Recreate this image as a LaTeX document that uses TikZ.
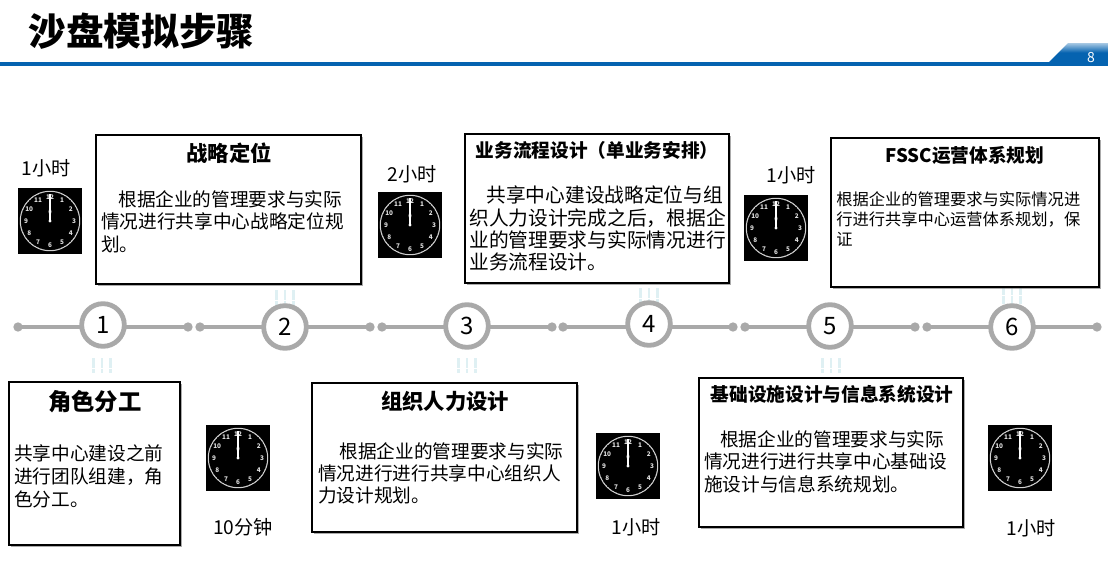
\documentclass[tikz,border=0pt]{standalone}
\usepackage{fontspec}
\setmainfont{Noto Sans CJK SC}
\usetikzlibrary{shadows}
\definecolor{barblue}{HTML}{0563B0}
\definecolor{lineGray}{HTML}{A9A9A9}
\definecolor{paleTick}{HTML}{DFF0F3}
\tikzset{
  x=0.75pt,y=-0.75pt,
  box/.style={draw=black,fill=white,line width=1.5pt,inner sep=0pt,anchor=center,
    drop shadow={shadow xshift=1.4pt,shadow yshift=-1.4pt,fill=black!55,opacity=.6}},
  bodytext/.style={inner sep=0pt,anchor=north west,align=left,text=black},
  titletext/.style={inner sep=0pt,anchor=center,text=black,font=\bfseries},
  timetext/.style={inner sep=0pt,anchor=center,text=black,font=\fontsize{14.4}{16}\selectfont},
  stepcircle/.style={circle,draw=lineGray,fill=white,line width=3.6pt,minimum size=32pt,inner sep=0pt,
    font=\fontsize{18}{20}\selectfont,text=black},
  enddot/.style={circle,fill=lineGray,minimum size=7pt,inner sep=0pt},
  tline/.style={draw=lineGray,line width=2.4pt},
  tick3/.style={draw=paleTick,line width=1.6pt,dash pattern=on 3.6pt off .5pt},
  clocknum/.style={inner sep=0pt,text=white!88!black,font=\fontsize{4.8}{5}\selectfont\bfseries},
}
\newcommand\clockface[3]{% name, cx, cy
  \begin{scope}[shift={(#2,#3)}]
    \node[fill=black,minimum width=48pt,minimum height=49.5pt,inner sep=0pt] (#1) at (0,0) {};
    \draw[white!82!black,line width=.75pt] (0,0) circle (22.3pt);
    \foreach \m in {0,6,...,354}{
      \draw[white!82!black,line width=.3pt] (\m:21.6pt) -- (\m:22.3pt);
    }
    \foreach \n/\a in {12/90,1/60,2/30,3/0,4/-30,5/-60,6/-90,7/-120,8/-150,9/180,10/150,11/120}{
      \node[clocknum] (#1n\n) at (\a:18pt) {\n};
    }
    \draw[white,line width=.9pt] (0,0) -- (0pt,20pt);
    \fill[white] (0pt,0pt) circle (1.3pt);
    \fill[white] (0pt,3pt) -- (1.1pt,7pt) -- (0pt,11pt) -- (-1.1pt,7pt) -- cycle;
  \end{scope}
}
\begin{document}
\begin{tikzpicture}
\useasboundingbox (0,0) rectangle (1108,571);
\fill[white] (0,0) rectangle (1108,571);

% header
\node[inner sep=0pt,anchor=center,text=black,font=\fontsize{28.3}{32}\selectfont\bfseries] (title) at (141.5,31) {沙盘模拟步骤};
\fill[barblue] (0,62) rectangle (1108,66);
\shade[top color=barblue!35,bottom color=barblue,middle color=barblue]
  (1049,62) -- (1068,43) -- (1108,43) -- (1108,62) -- cycle;
\node[inner sep=0pt,text=white,font=\fontsize{10.5}{12}\selectfont] (pnum) at (1091,58) {8};

% pale ticks
\foreach \xx/\ya/\yb in {102/358/373,285/290/305,467/358/373,649/288/303,831/358/373,1012/285/304}{
  \draw[tick3] (\xx-8.5,\ya) -- (\xx-8.5,\yb);
  \draw[tick3] (\xx,\ya) -- (\xx,\yb);
  \draw[tick3] (\xx+8.5,\ya) -- (\xx+8.5,\yb);
}

% timeline
\foreach \i/\xa/\xc/\xb/\yc in {1/18/103/188/325,2/200/285/370/327,3/382/467/552/326,4/563/649/733/324,5/745/830/915/326,6/927/1012/1097/327}{
  \node[enddot] (dl\i) at (\xa,327) {};
  \node[enddot] (dr\i) at (\xb,327) {};
  \draw[tline] (dl\i.center) -- (dr\i.center);
  \node[stepcircle] (c\i) at (\xc,\yc) {\i};
}

% boxes
\node[box,minimum width=265*0.75pt,minimum height=149*0.75pt] (b2) at (228.5,209.5) {};
\node[box,minimum width=264*0.75pt,minimum height=149*0.75pt] (b4) at (597,208.5) {};
\node[box,minimum width=268*0.75pt,minimum height=149*0.75pt] (b6) at (965,212.5) {};
\node[box,minimum width=171*0.75pt,minimum height=163*0.75pt] (b1) at (94.5,463.5) {};
\node[box,minimum width=265*0.75pt,minimum height=149*0.75pt] (b3) at (444.5,457.5) {};
\node[box,minimum width=264*0.75pt,minimum height=149*0.75pt] (b5) at (831,452.5) {};

% titles
\node[titletext,font=\fontsize{16}{18}\selectfont\bfseries] (t2) at (229,153) {战略定位};
\node[titletext,font=\fontsize{14}{16}\selectfont\bfseries] (t4) at (597,150) {业务流程设计（单业务安排）};
\node[titletext,font=\fontsize{14}{17}\selectfont\bfseries] (t6) at (965,155) {FSSC运营体系规划};
\node[titletext,font=\fontsize{17.5}{20}\selectfont\bfseries] (t1) at (95,402) {角色分工};
\node[titletext,font=\fontsize{16}{18}\selectfont\bfseries] (t3) at (445,401) {组织人力设计};
\node[titletext,font=\fontsize{14}{17}\selectfont\bfseries] (t5) at (832,394) {基础设施设计与信息系统设计};

% bodies
\node[bodytext,font=\fontsize{14}{16.9}\selectfont] (x2) at (101,190)
  {\hspace*{12.8pt}根据企业的管理要求与实际\\情况进行共享中心战略定位规\\划。};
\node[bodytext,font=\fontsize{14.8}{16.7}\selectfont] (x4) at (469,186)
  {\hspace*{12.8pt}共享中心建设战略定位与组\\织人力设计完成之后，根据企\\业的管理要求与实际情况进行\\业务流程设计。};
\node[bodytext,font=\fontsize{12.2}{15}\selectfont] (x6) at (836,191)
  {根据企业的管理要求与实际情况进\\行进行共享中心运营体系规划，保\\证};
\node[bodytext,font=\fontsize{14}{17.3}\selectfont] (x1) at (14,444)
  {共享中心建设之前\\进行团队组建，角\\色分工。};
\node[bodytext,font=\fontsize{14}{16.6}\selectfont] (x3) at (318,442)
  {\hspace*{15.8pt}根据企业的管理要求与实际\\情况进行进行共享中心组织人\\力设计规划。};
\node[bodytext,font=\fontsize{14}{16.9}\selectfont] (x5) at (704,430)
  {\hspace*{12pt}根据企业的管理要求与实际\\情况进行进行共享中心基础设\\施设计与信息系统规划。};

% time labels
\node[timetext] (l1) at (46,168) {1小时};
\node[timetext] (l2) at (412,174) {2小时};
\node[timetext] (l3) at (791,175) {1小时};
\node[timetext] (l4) at (243,527) {10分钟};
\node[timetext] (l5) at (636,527) {1小时};
\node[timetext] (l6) at (1031,528) {1小时};

% clocks
\clockface{k1}{50}{221}
\clockface{k2}{410}{225}
\clockface{k3}{776}{228}
\clockface{k4}{238}{458}
\clockface{k5}{628}{466}
\clockface{k6}{1020}{458}
\end{tikzpicture}
\end{document}
